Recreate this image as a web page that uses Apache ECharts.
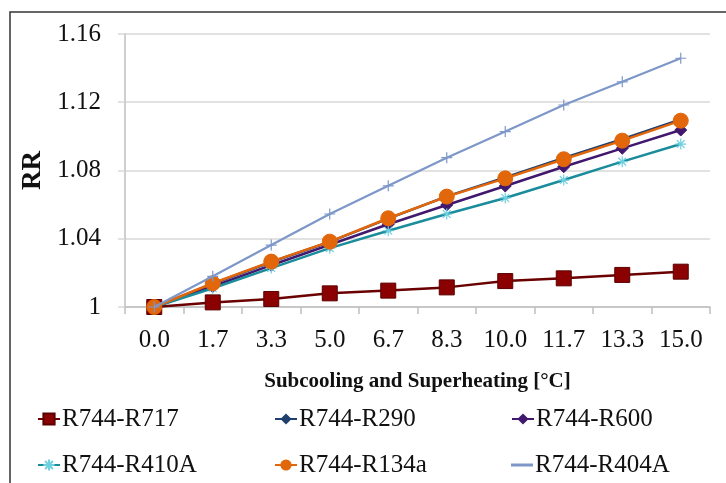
<!DOCTYPE html>
<html>
<head>
<meta charset="utf-8">
<script src="https://cdn.jsdelivr.net/npm/echarts@6/dist/echarts.min.js"></script>
<style>
  html, body { margin: 0; padding: 0; background: #fff; }
  #chart { width: 726px; height: 483px; }
</style>
</head>
<body>
<div id="chart"></div>
<script>
// Subcooling and superheating temperature difference [°C]
const categories = ['0.0', '1.7', '3.3', '5.0', '6.7', '8.3', '10.0', '11.7', '13.3', '15.0'];

// Relative ratio RR for each cascade pair
const rR717  = [1.000, 1.0027, 1.0047, 1.0080, 1.0096, 1.0115, 1.0152, 1.0168, 1.0188, 1.0207];
const rR290  = [1.000, 1.0136, 1.0264, 1.0382, 1.0518, 1.0648, 1.0760, 1.0874, 1.0984, 1.1100];
const rR600  = [1.000, 1.0120, 1.0245, 1.0365, 1.0485, 1.0598, 1.0709, 1.0822, 1.0930, 1.1037];
const rR410A = [1.000, 1.0110, 1.0228, 1.0345, 1.0447, 1.0545, 1.0639, 1.0744, 1.0852, 1.0955];
const rR134a = [1.000, 1.0139, 1.0266, 1.0383, 1.0520, 1.0647, 1.0754, 1.0866, 1.0975, 1.1092];
const rR404A = [1.000, 1.0180, 1.0363, 1.0545, 1.0710, 1.0875, 1.1028, 1.1184, 1.1320, 1.1458];

const yTicks = { min: 1, max: 1.16, step: 0.04 };

const serif = '"Liberation Serif", "DejaVu Serif", serif';
const plusPath = 'path://M0,5L10,5M5,0L5,10';
const starPath = 'path://M0,5L10,5M5,0L5,10M1.5,1.5L8.5,8.5M8.5,1.5L1.5,8.5';

function lineSeries(name, data, color, symbol, size, extra) {
  return Object.assign({
    name: name,
    type: 'line',
    data: data,
    symbol: symbol,
    symbolSize: size,
    lineStyle: { color: color, width: 2.5 },
    itemStyle: { color: color, borderColor: color },
    emphasis: { disabled: true },
    animation: false
  }, extra || {});
}

const series = [
  lineSeries('R744-R717', rR717, '#7f0000', 'rect', 15, {
    itemStyle: { color: '#8b0000', borderColor: '#5a0000', borderWidth: 1 },
    lineStyle: { color: '#6a0000', width: 2.5 }
  }),
  lineSeries('R744-R290', rR290, '#1f3f6e', 'diamond', 6, { z: 3 }),
  lineSeries('R744-R600', rR600, '#40186e', 'diamond', 12),
  lineSeries('R744-R410A', rR410A, '#1b8c9c', starPath, 11, {
    itemStyle: { color: 'none', borderColor: '#6fd0e0', borderWidth: 1.2 },
    lineStyle: { color: '#1b8c9c', width: 2.5 }
  }),
  lineSeries('R744-R134a', rR134a, '#e2660a', 'circle', 15, { z: 4 }),
  lineSeries('R744-R404A', rR404A, '#7d97c9', plusPath, 11, {
    itemStyle: { color: 'none', borderColor: '#7d97c9', borderWidth: 1.2 },
    lineStyle: { color: '#7d97c9', width: 2.2 },
    z: 5
  })
];

// Legend: three columns, two rows, one entry per slot
const legendCols = [32, 269, 506];
const legendRows = [400, 446];
const legendOrder = [
  ['R744-R717', 'R744-R290', 'R744-R600'],
  ['R744-R410A', 'R744-R134a', 'R744-R404A']
];

const legends = [];
legendOrder.forEach(function (row, r) {
  row.forEach(function (name, c) {
    const lineOnly = name === 'R744-R404A';
    legends.push({
      left: legendCols[c],
      top: legendRows[r],
      itemWidth: 22,
      itemHeight: lineOnly ? 3 : 14,
      itemGap: 0,
      textStyle: { fontFamily: serif, fontSize: 25, color: '#111', lineHeight: 28, padding: [0, 0, 0, -3] },
      selectedMode: false,
      data: [lineOnly
        ? { name: name, icon: 'rect', itemStyle: { color: '#7d97c9', borderWidth: 0 } }
        : name]
    });
  });
});

const chart = echarts.init(document.getElementById('chart'), null, { renderer: 'canvas' });
chart.setOption({
  backgroundColor: '#ffffff',
  animation: false,
  grid: { left: 125, top: 34, width: 585, height: 273, containLabel: false },
  xAxis: {
    type: 'category',
    data: categories,
    boundaryGap: true,
    name: 'Subcooling and Superheating [°C]',
    nameLocation: 'middle',
    nameGap: 64,
    nameTextStyle: { fontFamily: serif, fontSize: 21, fontWeight: 'bold', color: '#111' },
    axisLine: { lineStyle: { color: '#bfbfbf', width: 1.5 } },
    axisTick: { show: true, length: 7, lineStyle: { color: '#bfbfbf', width: 1.5 } },
    axisLabel: { fontFamily: serif, fontSize: 25, color: '#111', margin: 21, interval: 0 },
    splitLine: { show: false }
  },
  yAxis: {
    type: 'value',
    min: yTicks.min,
    max: yTicks.max,
    interval: yTicks.step,
    name: 'RR',
    nameLocation: 'middle',
    nameRotate: 90,
    nameGap: 74,
    nameTextStyle: { fontFamily: serif, fontSize: 27, fontWeight: 'bold', color: '#111' },
    axisLine: { show: true, lineStyle: { color: '#bfbfbf', width: 1.5 } },
    axisTick: { show: true, length: 7, lineStyle: { color: '#d9d9d9', width: 1.5 } },
    axisLabel: {
      fontFamily: serif, fontSize: 25, color: '#111', margin: 24,
      formatter: function (v) { return Math.abs(v - 1) < 1e-9 ? '1' : v.toFixed(2); }
    },
    splitLine: { show: true, lineStyle: { color: '#d9d9d9', width: 1.5 } }
  },
  legend: legends,
  graphic: [{
    type: 'rect',
    shape: { x: 10, y: 12, width: 760, height: 520 },
    style: { fill: 'none', stroke: '#333', lineWidth: 1.5 },
    silent: true,
    z: 100
  }],
  series: series
});
</script>
</body>
</html>
